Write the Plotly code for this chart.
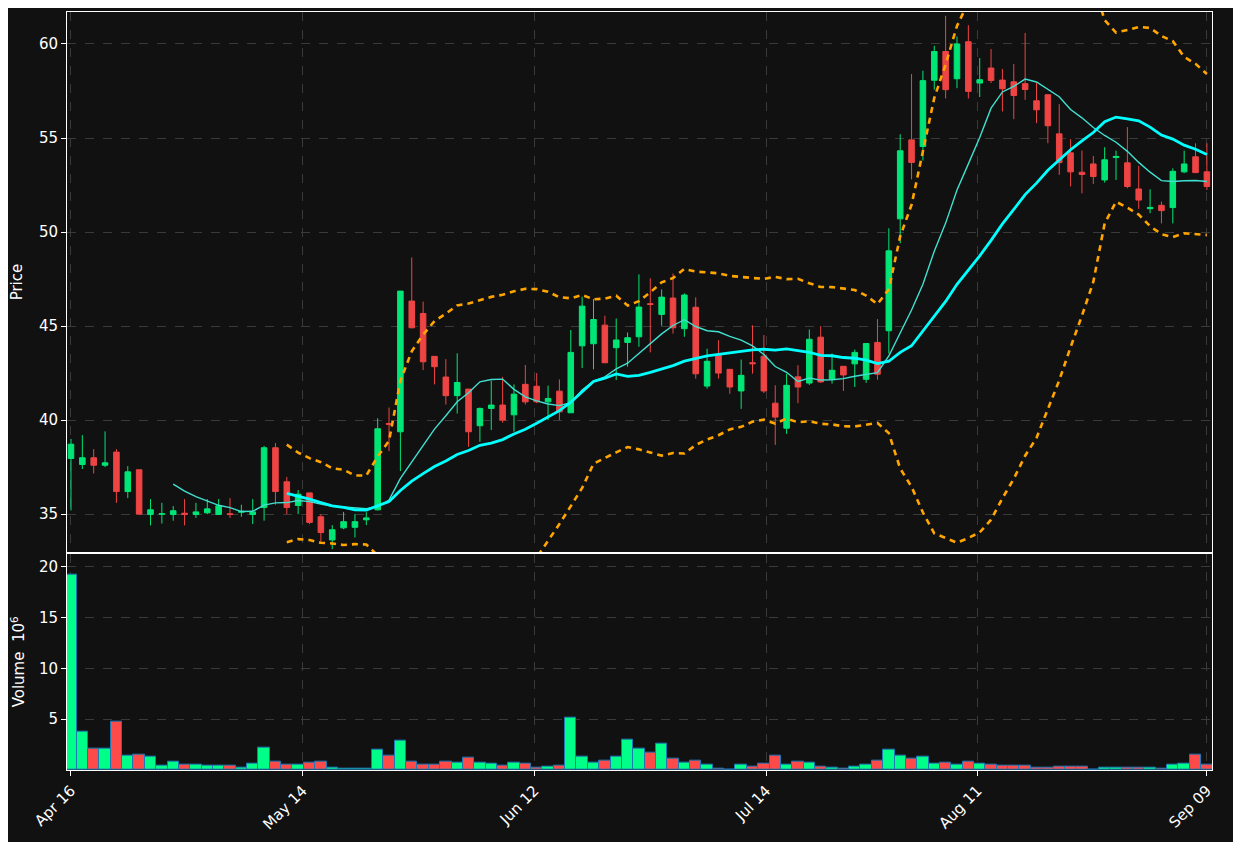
import pandas as pd
import plotly.graph_objects as go
from plotly.subplots import make_subplots

opens = [37.96, 37.64, 38.0, 37.6, 38.3, 36.2, 37.36, 34.98, 35.0, 34.98,
         35.05, 34.98, 35.07, 34.98, 35.02, 35.1, 34.98, 35.35, 38.53, 36.72,
         35.46, 36.13, 34.86, 33.63, 34.27, 34.3, 34.7, 35.23, 39.82, 39.38,
         46.33, 45.67, 43.39, 42.29, 41.3, 41.65, 39.7, 40.62, 40.8, 40.28,
         41.9, 41.8, 40.97, 41.54, 40.39, 43.95, 44.06, 45.05, 43.85, 44.13,
         44.43, 46.19, 45.62, 46.49, 44.86, 46.0, 41.81, 43.45, 42.7, 41.55,
         43.05, 43.4, 40.9, 39.57, 42.3, 41.97, 44.41, 42.17, 42.86, 42.99,
         42.17, 44.13, 44.75, 50.7, 54.9, 54.55, 58.07, 59.6, 58.15, 60.12,
         57.92, 58.72, 58.08, 57.99, 57.89, 56.98, 57.3, 55.22, 54.21, 53.18,
         53.62, 52.77, 53.96, 53.68, 52.29, 51.24, 51.42, 51.3, 53.2, 54.0, 53.2]
closes = [38.72, 38.0, 37.6, 37.73, 36.2, 37.25, 35.0, 35.23, 35.02, 35.18,
          34.98, 35.12, 35.28, 35.44, 34.98, 35.15, 35.12, 38.53, 36.2, 35.35,
          36.06, 34.56, 34.02, 34.17, 34.6, 34.6, 34.8, 39.54, 39.78, 46.86,
          44.91, 43.1, 42.84, 41.3, 42.0, 39.38, 40.62, 40.8, 40.0, 41.38,
          40.97, 40.97, 41.15, 40.44, 43.6, 46.06, 45.35, 43.05, 44.26, 44.38,
          46.01, 46.15, 46.54, 44.91, 46.65, 42.46, 43.13, 42.5, 41.76, 42.38,
          43.0, 41.55, 40.16, 41.85, 41.76, 44.3, 42.03, 42.65, 42.4, 43.6,
          44.07, 42.44, 49.0, 54.32, 53.7, 58.05, 59.6, 57.57, 60.0, 57.48,
          58.1, 58.06, 57.62, 57.26, 57.58, 56.5, 55.65, 53.69, 53.2, 53.06,
          52.95, 53.84, 54.02, 52.42, 51.7, 51.31, 51.14, 53.23, 53.62, 53.16, 52.42]
highs = [39.0, 39.2, 38.46, 39.4, 38.46, 37.55, 37.36, 35.8, 35.6, 35.43,
         35.8, 35.6, 35.8, 35.8, 35.85, 35.5, 35.8, 38.63, 38.78, 36.98,
         36.28, 36.13, 35.0, 34.42, 35.12, 35.0, 35.1, 40.1, 40.67, 46.86,
         48.65, 46.3, 43.39, 43.24, 43.55, 41.65, 40.67, 42.1, 42.3, 41.9,
         42.93, 42.5, 41.83, 42.16, 44.79, 46.56, 46.44, 45.55, 45.4, 44.66,
         47.75, 47.54, 46.95, 47.8, 46.74, 46.53, 43.8, 44.25, 42.7, 43.22,
         45.04, 44.52, 41.85, 42.47, 42.92, 44.82, 45.0, 43.54, 42.86, 43.75,
         44.07, 45.37, 50.2, 55.2, 58.4, 58.58, 59.9, 61.5, 60.4, 61.0,
         59.25, 59.73, 58.67, 58.93, 60.59, 57.92, 57.3, 56.8, 54.94, 54.33,
         54.05, 54.51, 54.33, 55.58, 53.52, 52.27, 51.62, 53.39, 54.33, 54.72, 54.72]
lows = [35.2, 37.4, 37.16, 37.5, 35.6, 35.85, 35.0, 34.4, 34.5, 34.65,
        34.4, 34.8, 35.0, 34.98, 34.8, 34.86, 34.47, 34.65, 35.5, 35.0,
        35.0, 34.47, 33.56, 33.14, 34.2, 33.76, 34.42, 35.2, 38.35, 37.29,
        44.88, 42.66, 41.9, 40.83, 40.35, 38.58, 38.85, 39.47, 39.86, 39.38,
        40.83, 40.9, 40.0, 40.0, 40.39, 42.77, 42.7, 43.05, 42.13, 42.84,
        43.9, 43.6, 45.02, 44.6, 44.43, 42.2, 41.67, 42.2, 41.4, 40.6,
        42.47, 41.44, 38.68, 39.27, 40.9, 41.87, 41.98, 41.94, 41.55, 41.76,
        41.98, 42.15, 43.54, 49.4, 52.8, 53.8, 57.57, 57.1, 57.65, 57.1,
        57.18, 57.92, 56.41, 56.0, 57.03, 55.79, 54.72, 53.04, 52.42, 52.06,
        52.56, 52.63, 52.77, 52.33, 51.23, 51.0, 50.46, 50.46, 53.13, 53.16, 52.24]
volumes = [19.2, 3.79, 2.15, 2.08, 4.8, 1.38, 1.48, 1.28, 0.47, 0.87,
           0.57, 0.57, 0.47, 0.47, 0.47, 0.27, 0.67, 2.18, 0.87, 0.57,
           0.57, 0.77, 0.87, 0.27, 0.17, 0.17, 0.17, 1.98, 1.38, 2.89,
           0.87, 0.57, 0.57, 0.87, 0.77, 1.17, 0.77, 0.67, 0.47, 0.77,
           0.67, 0.27, 0.37, 0.47, 5.2, 1.28, 0.77, 0.97, 1.28, 2.99,
           2.08, 1.68, 2.58, 1.07, 0.77, 0.97, 0.57, 0.17, 0.07, 0.57,
           0.37, 0.67, 1.38, 0.57, 0.87, 0.77, 0.37, 0.27, 0.17, 0.37,
           0.57, 0.97, 1.98, 1.38, 1.07, 1.28, 0.67, 0.77, 0.57, 0.87,
           0.67, 0.57, 0.47, 0.47, 0.47, 0.27, 0.27, 0.37, 0.37, 0.37,
           0.07, 0.27, 0.27, 0.27, 0.27, 0.27, 0.17, 0.57, 0.67, 1.48, 0.57]
tick_pos = [0, 20.4, 40.8, 61.2, 79.8, 100]
tick_labels = ["Apr 16", "May 14", "Jun 12", "Jul 14", "Aug 11", "Sep 09"]

GREEN, RED = "#00e676", "#ef4444"
VGREEN, VRED = "#00ff88", "#ff4a4a"

df = pd.DataFrame({"open": opens, "high": highs, "low": lows, "close": closes, "volume": volumes})
x = list(range(len(df)))
ma10 = df["close"].rolling(10).mean()
ma20 = df["close"].rolling(20).mean()
sd20 = df["close"].rolling(20).std(ddof=0)
upper = ma20 + 2 * sd20
lower = ma20 - 2 * sd20

fig = make_subplots(rows=2, cols=1, shared_xaxes=True, vertical_spacing=0.002,
                    row_heights=[0.714, 0.286])

fig.add_trace(go.Candlestick(
    x=x, open=df["open"], high=df["high"], low=df["low"], close=df["close"],
    increasing=dict(line=dict(color=GREEN, width=1), fillcolor=GREEN),
    decreasing=dict(line=dict(color=RED, width=1), fillcolor=RED),
    whiskerwidth=0, showlegend=False), row=1, col=1)
band = dict(color="#ffa500", width=2.6, dash="6px,5px")
fig.add_trace(go.Scatter(x=x, y=upper, mode="lines", line=band, showlegend=False), row=1, col=1)
fig.add_trace(go.Scatter(x=x, y=lower, mode="lines", line=band, showlegend=False), row=1, col=1)
fig.add_trace(go.Scatter(x=x, y=ma10, mode="lines",
                         line=dict(color="#40e0d0", width=1.4), showlegend=False), row=1, col=1)
fig.add_trace(go.Scatter(x=x, y=ma20, mode="lines",
                         line=dict(color="#00ffff", width=2.8), showlegend=False), row=1, col=1)

vcolors = [VGREEN if c >= o else VRED for o, c in zip(opens, closes)]
fig.add_trace(go.Bar(x=x, y=df["volume"], marker=dict(color=vcolors, line=dict(color="#1f77b4", width=1)),
                     width=1.0, showlegend=False), row=2, col=1)

axis_common = dict(showgrid=True, gridcolor="#3a3a3a", griddash="dash", gridwidth=1,
                   showline=True, linecolor="white", linewidth=1, mirror=True,
                   tickfont=dict(color="white", size=15), ticks="outside", tickcolor="white",
                   zeroline=False)
fig.update_xaxes(**axis_common, range=[-0.35, 100.45], tickvals=tick_pos, ticktext=tick_labels,
                 rangeslider_visible=False)
fig.update_xaxes(showticklabels=False, row=1, col=1)
fig.update_xaxes(tickangle=-45, row=2, col=1)
fig.update_yaxes(**axis_common)
fig.update_yaxes(range=[32.98, 61.7], tickvals=[35, 40, 45, 50, 55, 60],
                 title=dict(text="Price", font=dict(color="white", size=15)), row=1, col=1)
fig.update_yaxes(range=[0, 21.3], tickvals=[5, 10, 15, 20],
                 title=dict(text="Volume  10<sup>6</sup>", font=dict(color="white", size=15)), row=2, col=1)

fig.update_layout(width=1241, height=842, paper_bgcolor="#111111", plot_bgcolor="#111111",
                  margin=dict(l=59, r=37, t=4, b=80), bargap=0,
                  font=dict(family="DejaVu Sans", color="white"))

fig.write_html("out.html")
